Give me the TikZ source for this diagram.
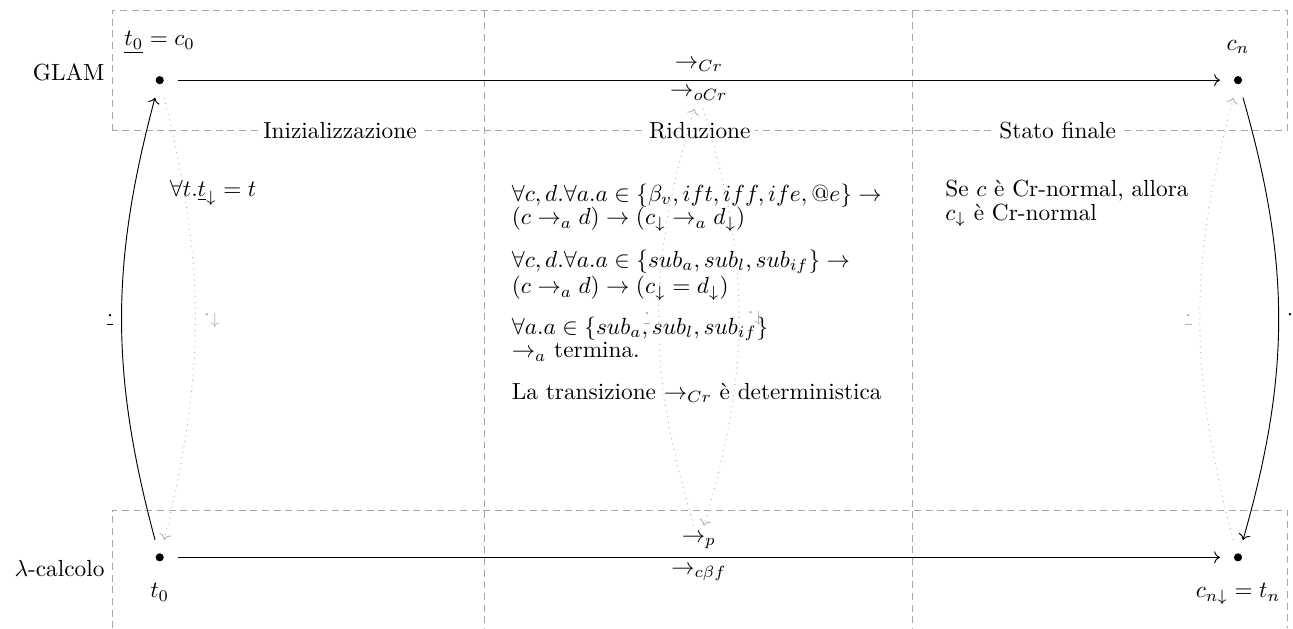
\documentclass[tikz,border=0pt]{standalone}
\usepackage{amsmath,amssymb}
\usetikzlibrary{positioning,arrows.meta,calc}

\begin{document}
\begin{tikzpicture}[
    pt/.style={circle, fill=black, inner sep=0pt, minimum size=3.5pt, outer sep=6pt},
    frame/.style={densely dashed, gray!70},
    phase/.style={fill=white, inner sep=2pt},
    back/.style={->, dotted, gray!60},
    info/.style={anchor=north west, align=left, font={\fontsize{10}{10}\selectfont}}]
    \useasboundingbox (-2.41,-1.07) rectangle (17.10,8.41);

    % Phase frames
    \draw[frame] (-0.72,6.44) rectangle (17.02,8.25);
    \draw[frame] (-0.72,-1.07) |- (17.02,0.71) -- (17.02,-1.07);
    \draw[frame] (4.90,8.25) -- (4.90,-1.07);
    \draw[frame] (11.36,8.25) -- (11.36,-1.07);
    \node[phase] (init) at (2.72,6.44) {Inizializzazione};
    \node[phase] (rid) at (8.15,6.44) {Riduzione};
    \node[phase] (fin) at (13.55,6.44) {Stato finale};

    % States
    \node[pt, label={above:$\underline{t_0} = c_0$}] (c0) at (0,7.20) {};
    \node[pt, label={above:$c_n$}] (cn) at (16.27,7.20) {};
    \node[pt, label={below:$t_0$}] (t0) at (0,0) {};
    \node[pt, label={below:$c_{n\downarrow} = t_n$}] (tn) at (16.27,0) {};
    \node[anchor=east] (glam) at (-0.71,7.32) {GLAM};
    \node[anchor=east] (lam) at (-0.71,-0.17) {$\lambda$-calcolo};

    % Transitions
    \draw[->] (c0) -- node[above] (cr) {$\rightarrow_{Cr}$} node[below] (ocr) {$\rightarrow_{oCr}$} (cn);
    \draw[->] (t0) -- node[above] (p) {$\rightarrow_p$} node[below] (cbf) {$\rightarrow_{c\beta f}$} (tn);

    % Translations
    \draw[->] (t0) to[bend left=15] node[left] {$\underline{\cdot}$} (c0);
    \draw[back] (c0) to[bend left=14] node[right] {$\cdot_\downarrow$} (t0);
    \draw[back] (p) to[bend left=17] node[left] {$\underline{\cdot}$} (ocr);
    \draw[back] (ocr) to[bend left=17] node[right] {$\cdot_\downarrow$} (p);
    \draw[->] (cn) to[bend left=16] node[right] {$\cdot_\downarrow$} (tn);
    \draw[back] (tn) to[bend left=15] node[left] {$\underline{\cdot}$} (cn);

    % Properties
    \node[info] (initinfo) at (0.03,5.81) {$\forall t.\underline{t}_\downarrow = t$};
    \node[info] (ridinfo) at (5.19,5.76) {%
        $\forall c,d.\forall a.a \in \{\beta_v, ift, iff, ife, @e\} \rightarrow$\\
        $(c \rightarrow_a d) \rightarrow (c_\downarrow \rightarrow_a d_\downarrow)$\\[7pt]
        $\forall c,d.\forall a.a \in \{sub_a, sub_l, sub_{if}\} \rightarrow$\\
        $(c \rightarrow_a d) \rightarrow (c_\downarrow = d_\downarrow)$\\[6pt]
        $\forall a.a \in \{sub_a, sub_l, sub_{if}\}$\\
        $\rightarrow_a$ termina.\\[8pt]
        La transizione $\rightarrow_{Cr}$ è deterministica};
    \node[info] (fininfo) at (11.73,5.81) {Se $c$ è Cr-normal, allora\\ $c_\downarrow$ è Cr-normal};
\end{tikzpicture}
\end{document}
